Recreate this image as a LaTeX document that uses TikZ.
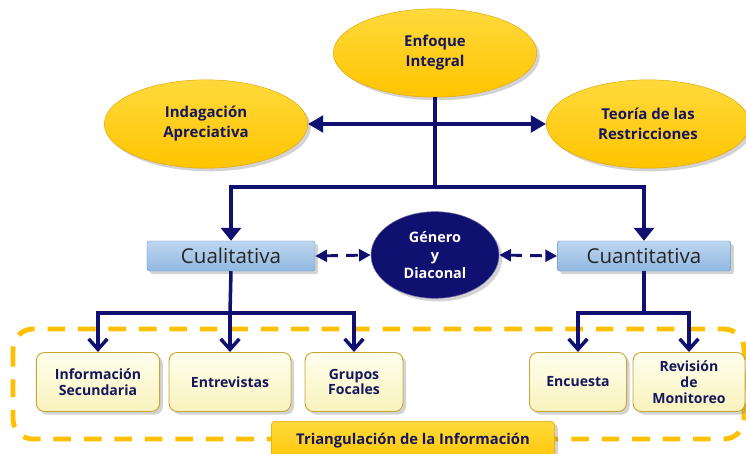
\documentclass[tikz,border=0pt]{standalone}
\usepackage{fontspec}
\setmainfont{Open Sans}
\usetikzlibrary{shapes.geometric,shadows,arrows.meta}

\definecolor{navy}{RGB}{16,16,112}
\definecolor{navytext}{RGB}{22,22,92}
\definecolor{gold}{RGB}{255,196,0}
\definecolor{goldlight}{RGB}{255,218,60}
\definecolor{golddark}{RGB}{225,165,0}
\definecolor{bluelight}{RGB}{190,214,240}
\definecolor{bluemid}{RGB}{145,184,224}
\definecolor{bluedark}{RGB}{110,150,195}
\definecolor{creamlight}{RGB}{255,255,238}
\definecolor{cream}{RGB}{248,242,188}
\definecolor{creamdark}{RGB}{200,165,50}
\definecolor{framegold}{RGB}{255,192,0}

\begin{document}
\begin{tikzpicture}[x=0.03cm, y=-0.03cm,
    oval/.style={ellipse, draw=golddark, top color=goldlight, bottom color=gold, minimum width=6.1cm, minimum height=2.65cm, inner sep=0pt, align=center, text=navytext, font=\fontsize{12.8}{17}\selectfont\bfseries, drop shadow={opacity=0.35}},
    metodo/.style={rectangle, rounded corners=2pt, draw=bluedark, top color=bluelight, bottom color=bluemid, minimum width=#1, minimum height=0.9cm, font=\fontsize{17.5}{20}\selectfont, text=black!85, drop shadow={opacity=0.35}},
    tecnica/.style={rectangle, rounded corners=7pt, draw=creamdark, line width=0.8pt, top color=creamlight, bottom color=cream, minimum width=#1, minimum height=1.77cm, inner sep=1pt, align=center, text=navytext, font=\fontsize{12}{13.5}\selectfont\bfseries, drop shadow={opacity=0.35}},
    trunk/.style={draw=navy, line width=4pt},
    link/.style={trunk, -{Triangle[width=17pt,length=11pt]}},
    duo/.style={trunk, {Triangle[width=14pt,length=13pt]}-{Triangle[width=14pt,length=13pt]}},
    sublink/.style={draw=navy, line width=3pt, -{Straight Barb[width=16pt,length=9pt]}},
    cruce/.style={draw=navy, line width=2.5pt, dash pattern=on 10pt off 7pt, {Triangle[width=10pt,length=10pt]}-{Triangle[width=10pt,length=10pt]}},
    marco/.style={draw=framegold, line width=4.2pt, dash pattern=on 15pt off 11pt, rounded corners=0.6cm}
]
    \useasboundingbox (0,0) rectangle (746,454);

    % marco de triangulacion
    \draw[marco] (13,329) rectangle (744,439);

    % enfoques
    \node[oval] (enfoque) at (435,53) {Enfoque\\Integral};
    \node[oval] (indagacion) at (206,124) {Indagación\\Apreciativa};
    \node[oval] (teoria) at (648,124) {Teoría de las\\Restricciones};

    % metodos
    \node[metodo=5.04cm] (cualitativa) at (231,256) {Cualitativa};
    \node[metodo=5.2cm] (cuantitativa) at (644,256) {Cuantitativa};
    \node[ellipse, fill=navy, draw=navy!60!white, minimum width=3.84cm, minimum height=2.6cm, inner sep=0pt, align=center, text=white, font=\fontsize{12.3}{15}\selectfont\bfseries, drop shadow={opacity=0.35}] (genero) at (435,255) {Género\\y\\Diaconal};

    % tecnicas
    \node[tecnica=3.7cm] (info) at (98,382) {Información\\Secundaria};
    \node[tecnica=3.66cm] (entrevistas) at (230,382) {Entrevistas};
    \node[tecnica=2.94cm] (grupos) at (354,382) {Grupos\\Focales};
    \node[tecnica=2.91cm] (encuesta) at (578,382) {Encuesta};
    \node[tecnica=3.36cm] (revision) at (689,382) {Revisión\\de\\Monitoreo};

    \node[rectangle, rounded corners=3pt, draw=golddark, top color=goldlight, bottom color=gold, minimum width=8.5cm, minimum height=1.3cm, text=navytext, font=\fontsize{12.6}{14}\selectfont\bfseries, drop shadow={opacity=0.35}] (triang) at (413,443) {\raisebox{1.1ex}{Triangulación de la Información}};

    % conexiones
    \coordinate (split) at (435,187);
    \draw[duo] (indagacion.east) -- (teoria.west);
    \draw[trunk] (enfoque.south) -- (split);
    \draw[link] (split) -| (cualitativa.north);
    \draw[link] (split) -| (cuantitativa.north);

    \draw[cruce] (cualitativa.east) -- (genero.west);
    \draw[cruce] (genero.east) -- (cuantitativa.west);

    \coordinate (qsplit) at (230,313);
    \draw[draw=navy, line width=3pt] (cualitativa.south) -- (qsplit);
    \draw[sublink] (qsplit) -| (info.north);
    \draw[sublink] (qsplit) -- (entrevistas.north);
    \draw[sublink] (qsplit) -| (grupos.north);

    \coordinate (nsplit) at (644,313);
    \draw[draw=navy, line width=3pt] (cuantitativa.south) -- (nsplit);
    \draw[sublink] (nsplit) -| (encuesta.north);
    \draw[sublink] (nsplit) -| (revision.north);
\end{tikzpicture}
\end{document}
